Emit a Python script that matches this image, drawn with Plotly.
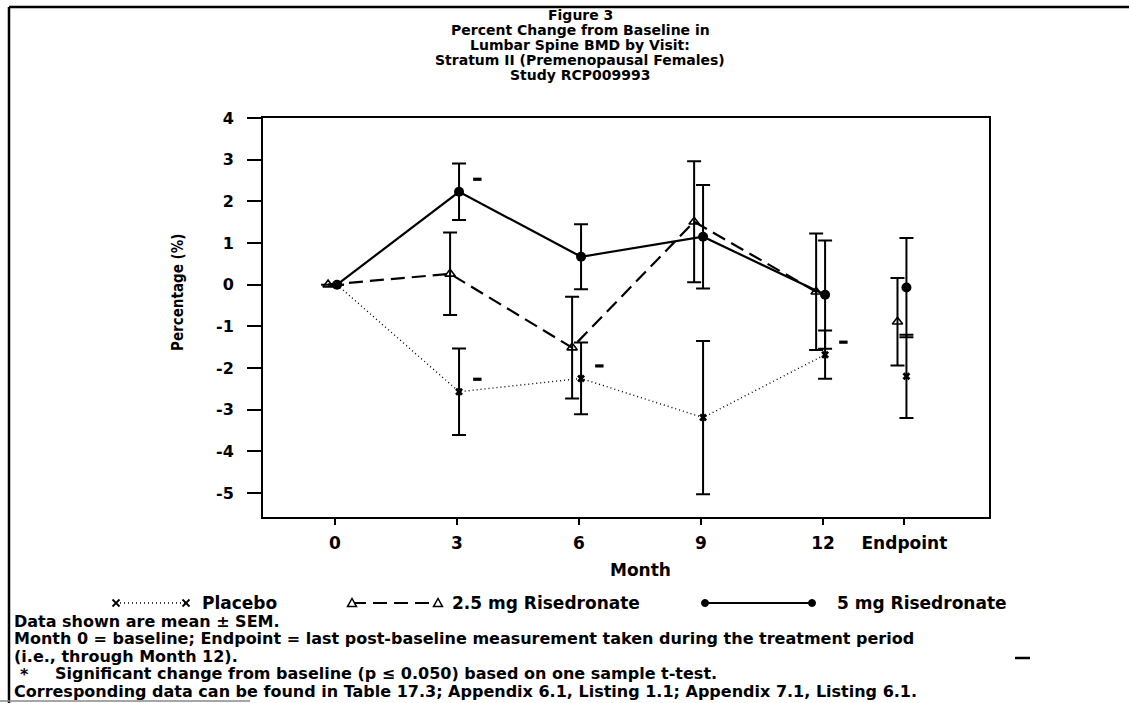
import plotly.graph_objects as go

# ---- data -------------------------------------------------------------
months = [0, 3, 6, 9, 12]
endpoint_pos = 14
tick_vals = [0, 3, 6, 9, 12, 14]
tick_text = ["0", "3", "6", "9", "12", "Endpoint"]

placebo_mean = [0.0, -2.57, -2.25, -3.19, -1.68]
placebo_sem = [0.0, 1.04, 0.86, 1.84, 0.58]
placebo_end_mean = -2.20
placebo_end_sem = 1.00
placebo_sig = [False, True, True, False, True]

r25_mean = [0.0, 0.26, -1.51, 1.51, -0.17]
r25_sem = [0.0, 0.99, 1.22, 1.45, 1.40]
r25_end_mean = -0.89
r25_end_sem = 1.05
r25_sig = [False, False, False, False, False]

r5_mean = [0.0, 2.23, 0.67, 1.15, -0.24]
r5_sem = [0.0, 0.68, 0.78, 1.24, 1.30]
r5_end_mean = -0.07
r5_end_sem = 1.19
r5_sig = [False, True, False, False, False]

y_ticks = [-5, -4, -3, -2, -1, 0, 1, 2, 3, 4]

title_lines = [
    "Figure 3",
    "Percent Change from Baseline in",
    "Lumbar Spine BMD by Visit:",
    "Stratum II (Premenopausal Females)",
    "Study RCP009993",
]
footer_lines = [
    "Data shown are mean \u00b1 SEM.",
    "Month 0 = baseline; Endpoint = last post-baseline measurement taken during the treatment period",
    "(i.e., through Month 12).",
    "Corresponding data can be found in Table 17.3; Appendix 6.1, Listing 1.1; Appendix 7.1, Listing 6.1.",
]
sig_note = "Significant change from baseline (p \u2264 0.050) based on one sample t-test."

# ---- page geometry ----------------------------------------------------
W, H = 1129, 703
L, R, T, B = 263, 989, 118, 517
FONT = "DejaVu Sans, Verdana, sans-serif"
NARROW = "Liberation Sans Narrow, DejaVu Sans Condensed, Arial Narrow, sans-serif"
TXT = 17
FOOT = 16


def px(x):
    return (x - L) / (R - L)


def py(y):
    return (B - y) / (B - T)


fig = go.Figure()

series = [
    dict(name="Placebo", mean=placebo_mean, sem=placebo_sem, em=placebo_end_mean,
         es=placebo_end_sem, sig=placebo_sig, dx=0.05,
         line=dict(color="black", width=1.4, dash="1px,3px"),
         marker=dict(symbol="x", size=7, color="black")),
    dict(name="2.5 mg Risedronate", mean=r25_mean, sem=r25_sem, em=r25_end_mean,
         es=r25_end_sem, sig=r25_sig, dx=-0.17,
         line=dict(color="black", width=2.2, dash="14px,7px"),
         marker=dict(symbol="triangle-up-open", size=9, color="black",
                     line=dict(width=1.6, color="black"))),
    dict(name="5 mg Risedronate", mean=r5_mean, sem=r5_sem, em=r5_end_mean,
         es=r5_end_sem, sig=r5_sig, dx=0.05,
         line=dict(color="black", width=2.2),
         marker=dict(symbol="circle", size=10, color="black")),
]

err_style = dict(type="data", color="black", thickness=2, width=7, visible=True)

for s in series:
    xs = [m + s["dx"] for m in months]
    fig.add_trace(go.Scatter(
        x=xs, y=s["mean"], mode="lines+markers", name=s["name"],
        line=s["line"], marker=s["marker"],
        error_y=dict(array=s["sem"], **err_style), showlegend=False))
    fig.add_trace(go.Scatter(
        x=[endpoint_pos + s["dx"]], y=[s["em"]], mode="markers",
        marker=s["marker"], error_y=dict(array=[s["es"]], **err_style),
        showlegend=False))
    # significance flags placed just above-right of the point
    sx = [m + s["dx"] + 0.45 for m, f in zip(months, s["sig"]) if f]
    sy = [v + 0.3 for v, f in zip(s["mean"], s["sig"]) if f]
    if sx:
        fig.add_trace(go.Scatter(
            x=sx, y=sy, mode="markers", showlegend=False,
            marker=dict(symbol="line-ew", size=6, line=dict(width=3.2, color="black"))))

annotations = []
shapes = []


def text(s, x, y, size=TXT, anchor="left", family=FONT, **kw):
    annotations.append(dict(text="<b>%s</b>" % s, x=px(x), y=py(y), xref="paper",
                            yref="paper", showarrow=False, xanchor=anchor,
                            yanchor="middle", font=dict(family=family, size=size,
                                                        color="black"), **kw))


# title block
title_y = [15, 30, 45, 60, 75]
for txt, y in zip(title_lines, title_y):
    text(txt, 580, y, size=14, anchor="center")

# axis titles
text("Percentage (%)", 178, 293, size=15, anchor="center", family=NARROW, textangle=-90)
text("Month", 640, 570, size=17, anchor="center")

# custom legend row drawn with shapes
LEG_Y = 603
ly = py(LEG_Y)


def xmark(x):
    dx, dy = 3.5 / (R - L), 3.5 / (B - T)
    for sgn in (1, -1):
        shapes.append(dict(type="line", xref="paper", yref="paper",
                           x0=px(x) - dx, x1=px(x) + dx, y0=ly - sgn * dy, y1=ly + sgn * dy,
                           line=dict(color="black", width=1.8)))


def tri(x):
    dx, dy = 4.5 / (R - L), 4.5 / (B - T)
    c = px(x)
    shapes.append(dict(type="path", xref="paper", yref="paper",
                       path="M %f,%f L %f,%f L %f,%f Z" % (c - dx, ly - dy * 0.8, c + dx,
                                                           ly - dy * 0.8, c, ly + dy),
                       line=dict(color="black", width=1.5), fillcolor="white"))


def dot(x):
    dx, dy = 3.5 / (R - L), 3.5 / (B - T)
    shapes.append(dict(type="circle", xref="paper", yref="paper",
                       x0=px(x) - dx, x1=px(x) + dx, y0=ly - dy, y1=ly + dy,
                       line=dict(color="black", width=1), fillcolor="black"))


legend_items = [
    (series[0], 116, 186, 200, xmark),
    (series[1], 352, 438, 450, tri),
    (series[2], 705, 812, 835, dot),
]
for s, x0, x1, tx, sym in legend_items:
    shapes.append(dict(type="line", xref="paper", yref="paper", x0=px(x0), x1=px(x1),
                       y0=ly, y1=ly, line=s["line"]))
    sym(x0)
    sym(x1)
    text(s["name"], tx, LEG_Y)

# footnotes
foot_y = [621, 638.5, 656, 691]
for txt, y in zip(footer_lines, foot_y):
    text(txt, 12, y, size=FOOT)
text("*", 24, 674, size=FOOT, anchor="center")
text(sig_note, 53, 673.5, size=FOOT)

# page frame
shapes.append(dict(type="line", xref="paper", yref="paper", x0=px(9), x1=px(1129),
                   y0=py(7), y1=py(7), line=dict(color="black", width=2.5)))
shapes.append(dict(type="line", xref="paper", yref="paper", x0=px(9), x1=px(9),
                   y0=py(7), y1=py(703), line=dict(color="black", width=2.5)))
shapes.append(dict(type="line", xref="paper", yref="paper", x0=px(0), x1=px(250),
                   y0=py(701), y1=py(701), line=dict(color="#888888", width=1.5)))
shapes.append(dict(type="line", xref="paper", yref="paper", x0=px(1015), x1=px(1030),
                   y0=py(658), y1=py(658), line=dict(color="black", width=2.5)))

fig.update_layout(
    width=W, height=H,
    margin=dict(l=L, r=W - R, t=T, b=H - B, pad=0),
    paper_bgcolor="white", plot_bgcolor="white",
    showlegend=False,
    xaxis=dict(range=[-1.77, 16.08], tickvals=tick_vals,
               ticktext=["<b>%s</b>" % t for t in tick_text],
               showline=True, mirror=True, linecolor="black", linewidth=2,
               ticks="outside", ticklen=6, tickwidth=2, tickcolor="black",
               ticklabelstandoff=4,
               showgrid=False, zeroline=False,
               tickfont=dict(family=FONT, size=17, color="black")),
    yaxis=dict(range=[-5.576, 4.0], tickvals=y_ticks,
               ticktext=["<b>%d</b>" % v for v in y_ticks],
               showline=True, mirror=True, linecolor="black", linewidth=2,
               ticks="outside", ticklen=14, tickwidth=2, tickcolor="black",
               ticklabelstandoff=10,
               showgrid=False, zeroline=False,
               tickfont=dict(family=FONT, size=16, color="black")),
    annotations=annotations,
    shapes=shapes,
)

fig.write_html("out.html")
